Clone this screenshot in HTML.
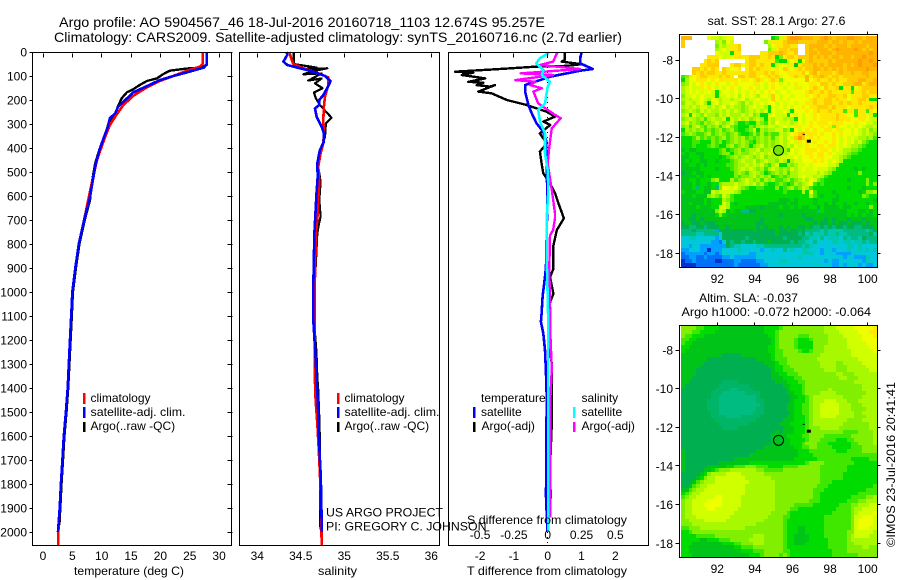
<!DOCTYPE html>
<html lang="en">
<head>
<meta charset="utf-8">
<title>Argo profile</title>
<style>
html,body{margin:0;padding:0;background:#fff;}
svg{display:block;font-family:"Liberation Sans",sans-serif;font-size:12px;fill:#000;}
</style>
</head>
<body>
<svg id="chart" xmlns="http://www.w3.org/2000/svg" width="900" height="580" viewBox="0 0 900 580">
<rect x="0" y="0" width="900" height="580" fill="#fff"/>
<text x="59" y="27" font-size="14" textLength="486" lengthAdjust="spacingAndGlyphs">Argo profile: AO 5904567_46 18-Jul-2016 20160718_1103 12.674S 95.257E</text>
<text x="54" y="42" font-size="14" textLength="568" lengthAdjust="spacingAndGlyphs">Climatology: CARS2009. Satellite-adjusted climatology: synTS_20160716.nc (2.7d earlier)</text>
<g id="plots"></g>
<g>
<text x="74" y="575" textLength="110" lengthAdjust="spacingAndGlyphs">temperature (deg C)</text>
<text x="318" y="575" textLength="39" lengthAdjust="spacingAndGlyphs">salinity</text>
<text x="467" y="575" textLength="160" lengthAdjust="spacingAndGlyphs">T difference from climatology</text>
<text x="467" y="524" textLength="160" lengthAdjust="spacingAndGlyphs">S difference from climatology</text>
</g>
<g>
<rect x="83" y="393" width="2.5" height="11" fill="#f00"/>
<text x="90.5" y="402">climatology</text>
<rect x="83" y="407" width="2.5" height="11" fill="#00f"/>
<text x="90.5" y="416" textLength="95" lengthAdjust="spacingAndGlyphs">satellite-adj. clim.</text>
<rect x="83" y="422" width="2.5" height="10" fill="#000"/>
<text x="90.5" y="430">Argo(..raw -QC)</text>
</g>
<g>
<rect x="337" y="393" width="2.5" height="11" fill="#f00"/>
<text x="344.5" y="402">climatology</text>
<rect x="337" y="407" width="2.5" height="11" fill="#00f"/>
<text x="344.5" y="416" textLength="95" lengthAdjust="spacingAndGlyphs">satellite-adj. clim.</text>
<rect x="337" y="422" width="2.5" height="10" fill="#000"/>
<text x="344.5" y="430">Argo(..raw -QC)</text>
</g>
<g>
<text x="481" y="402">temperature</text>
<rect x="473" y="407" width="2.5" height="11" fill="#00f"/>
<text x="481" y="416">satellite</text>
<rect x="473" y="422" width="2.5" height="10" fill="#000"/>
<text x="481.5" y="430">Argo(-adj)</text>
<text x="581.5" y="402">salinity</text>
<rect x="573" y="407" width="2.5" height="11" fill="#0ff"/>
<text x="581.5" y="416">satellite</text>
<rect x="573" y="422" width="2.5" height="10" fill="#f0f"/>
<text x="581.5" y="430">Argo(-adj)</text>
</g>
<text x="326" y="516.5" textLength="117" lengthAdjust="spacingAndGlyphs">US ARGO PROJECT</text>
<text x="326" y="530.5" textLength="160.5" lengthAdjust="spacingAndGlyphs">PI: GREGORY C. JOHNSON</text>
<text x="707.5" y="25" textLength="138" lengthAdjust="spacingAndGlyphs">sat. SST: 28.1  Argo: 27.6</text>
<text x="699" y="302" textLength="99" lengthAdjust="spacingAndGlyphs">Altim. SLA: -0.037</text>
<text x="681.5" y="316" textLength="189.5" lengthAdjust="spacingAndGlyphs">Argo h1000: -0.072 h2000: -0.064</text>
<text transform="translate(895,547) rotate(-90)" textLength="165" lengthAdjust="spacingAndGlyphs">©IMOS 23-Jul-2016 20:41:41</text>
</svg>
<script>
// Depth axis
const depthTicks = [0,100,200,300,400,500,600,700,800,900,1000,1100,1200,1300,1400,1500,1600,1700,1800,1900,2000];
const tempTicks = [0,5,10,15,20,25,30];
const salTicks = [34,34.5,35,35.5,36];
const dTTicks = [-2,-1,0,1,2];
const dSTicks = [-0.5,-0.25,0,0.25,0.5];
const lonTicks = [92,94,96,98,100];
const latTicks = [-8,-10,-12,-14,-16,-18];

// Temperature profiles
const tClimDepth = [0,50,61,79,100,121,147,182,221,262,304,353,408,450,547,700,800,900,1000,1100,1200,1300,1400,1500,1600,1700,1800,1900,2000,2054];
const tClimVal = [27.2,27.2,26.75,24.4,22.2,19.9,17.7,15.4,13.7,12.5,11.4,10.6,9.8,9.2,8.3,7.0,6.1,5.5,5.0,4.8,4.6,4.4,4.2,3.9,3.55,3.3,3.05,2.85,2.6,2.6];
const tArgoDepth = [0,54,65,69,78,92,110,121,137,155,168,193,225,262,283,332,367,422,464,547,617,700,800,900,1000,1100,1200,1300,1400,1500,1600,1700,1800,1900,1970];
const tArgoVal = [27.9,27.9,26.75,24.4,21.6,20.5,19.4,17.7,16.5,15.4,14.3,13.4,12.8,12.3,11.4,10.85,10.2,9.4,8.9,8.3,8.0,7.1,6.2,5.6,5.1,4.9,4.7,4.5,4.3,4.0,3.65,3.4,3.15,2.95,2.8];
const tSatDepth = [0,50,65,86,100,117,142,168,200,228,256,276,318,360,408,464,533,617,700,800,900,1000,1100,1200,1300,1400,1500,1600,1700,1800,1900,2000];
const tSatVal = [27.9,27.9,27.4,24.4,22.2,19.9,17.7,15.4,14,12.8,12.3,11.4,10.95,10.3,9.6,9,8.5,7.9,7.0,6.1,5.5,5.0,4.8,4.6,4.4,4.2,3.9,3.55,3.3,3.05,2.85,2.55];

// Salinity profiles
const sClimDepth = [0,33,50,68,86,106,138,186,228,283,339,380,422,478,540,617,700,755,986,1339,1450,1547,1644,1755,1852,2054];
const sClimVal = [34.368,34.395,34.414,34.53,34.68,34.816,34.816,34.778,34.766,34.759,34.766,34.759,34.728,34.70,34.713,34.70,34.69,34.675,34.66,34.66,34.67,34.69,34.705,34.72,34.73,34.74];
const sArgoDepth = [0,50,65,72,68,78,93,89,119,110,131,151,169,193,221,274,297,353,422,478,540,617,686,713,755,867,978,1117,1255,1353,1408,1546,1755,1852,1990];
const sArgoVal = [34.418,34.418,34.682,34.529,34.805,34.663,34.529,34.739,34.586,34.739,34.663,34.751,34.651,34.674,34.72,34.854,34.789,34.778,34.72,34.70,34.728,34.713,34.728,34.71,34.69,34.675,34.66,34.652,34.68,34.69,34.70,34.715,34.725,34.72,34.725];
const sSatDepth = [0,12,40,54,68,82,100,121,142,179,200,221,235,269,311,339,374,408,464,519,589,755,978,1117,1255,1353,1450,1547,1644,1755,1852,1992,2000];
const sSatVal = [34.337,34.345,34.30,34.345,34.49,34.644,34.778,34.843,34.816,34.759,34.713,34.713,34.663,34.682,34.739,34.766,34.766,34.72,34.69,34.694,34.68,34.656,34.644,34.644,34.667,34.68,34.694,34.705,34.713,34.728,34.736,34.74,34.74];

// Difference profiles
const dTArgoDepth = [3,33,40,51,58,61,71,82,86,96,110,124,128,138,144,138,165,172,200,221,249,269,290,304,339,381,415,464,506,547,589,631,693,742,806,903,938,1007,1042,1200,1300,1397,1547,1728,1853,1922,1940];
const dTArgoVal = [0.51,0.51,0.41,1.0,0.56,-0.33,-1.41,-2.74,-2.2,-2.54,-1.85,-2.35,-1.9,-2.1,-1.71,-1.56,-2.05,-1.66,-1.21,-0.62,-0.03,0.22,-0.13,0.07,-0.23,-0.03,-0.23,-0.18,-0.13,0.07,0.22,0.32,0.48,0.27,0.17,0.17,0.07,0.17,0.07,0.02,0.12,0.12,0.12,0.07,0.09,0.05,0.05];
const dTSatDepth = [3,26,47,71,78,103,138,165,221,256,297,332,367,464,617,894,936,1019,1089,1124,1172,1242,1339,1436,1850,2000];
const dTSatVal = [1.0,0.96,0.96,1.33,0.96,0.07,-0.67,-0.67,-0.57,-0.47,-0.33,-0.13,-0.05,-0.03,-0.01,-0.05,-0.08,-0.15,-0.18,-0.2,-0.13,-0.08,-0.05,-0.03,-0.05,-0.01];
const dSArgoDepth = [3,40,54,71,89,96,117,124,138,151,165,214,262,276,318,394,464,575,672,693,742,764,903,1042,1181,1319,1442,1700,1940];
const dSArgoVal = [0.07,0.04,-0.057,0.24,-0.2,0.04,-0.24,-0.09,-0.13,-0.044,-0.106,-0.07,0.054,0.096,0.03,0.012,0,0.03,0.054,0.054,0.04,0.017,0.012,0.017,0.02,0.03,0.02,0.02,0.02];
const dSSatDepth = [3,26,47,75,96,124,144,214,242,290,339,422,492,575,686,742,880,1019,1158,1400,2000];
const dSSatVal = [0.01,-0.057,-0.086,-0.03,-0.044,0.017,0,-0.02,-0.07,-0.057,-0.02,-0.02,0,0.005,-0.007,-0.007,-0.007,0,0.005,0.005,0.005];

// Map markers
const circleLon = [95.257];
const circleLat = [-12.674];
const markerLon = [96.87,96.6];
const markerLat = [-12.2,-11.85];

// Colour levels used by both maps ('a' is the mid teal-green halo in the SLA low)
const levelKeys = "0123456789ABCDEFGHIa";
const levelColors = ["#0030d0","#0070f8","#00a0ff","#00c8d8","#00c8b0","#00bc80","#00b050","#00c418","#00dc00","#40e800","#80f000","#a8f800","#d0ff00","#f0ff00","#ffe800","#ffcc00","#ffb400","#ff9c00","#e87000","#00b468"];

// Satellite SST grid, north to south, west to east ('.' = no data)
const sstRows = [
"GGG....DCCBCDD..........89CEGHHHGGGFFGHGFGGGHHGGFGGG",
"F........BCADC........ACEEEFGGGFFFFFGGGFGGFGFFGFGGGG",
"F........ACBCEEF.......BDEEFFEE..FGGGGFGFGGGFGGGGFGG",
".........BCDCEEF.......ACEFFEFF..FGFGGGFGHGGGGHGFGFG",
".........DCCC8EE.....EEFFFGFEEF..FGGFGGGFGGGGGGGGGHG",
".......EEEDCCDEEEEFFFEEFE8AEFFEFFFGFGFGFGGFGGFGGHGGG",
"......EFEF.......EFFEEEEE988CDE8DFGFFFFGFGGGGGGHGGHG",
".....EEFFF...EFFDEFFEFEE8CDDCE7EFFFGFGFGGGGFGFGHGGGH",
"...FFEFEFE.FEDDE.EFEFEEEDEDFEDEFEFFGGFGFGFGFGGGGGHGG",
"...FEFEFFEEFEEEEEEFFEEFEFEDDEEEEFDFGEFFFEFGFFGFFGGFF",
"9AEDEFFEEEFEFE.FFEFFEDEFEFEDDEFEEGEFFGFEFFEFFFFFFGFF",
"8BDDEEEDEDEEEEEDEEDEFEDEFEADDDDDDGDEFEEFEFEEFFFGGFFG",
"ABDCDEDCDEDDCDEDDDDCEDCDEDCDCDEDDDEEDFFEFEEFFFGGEFGG",
"BCDCCEDEDCDCDEDCDDEDCDCDEDDCDDCEDDEFEDFEEF8EE8DEFFFF",
"BCDCDCDDC8CDDCDCDCDEDCDEDCDDCDDDDEFEEFEFEEEEE9EEFEFF",
"ACCDCDCCC8CCDCDBDCDCBDDCFDCDDCDDDEDEFEEFFEEFDEEEFFEE",
"BCBCCDCBDCBCCBCCDBCCDCCDFDCDCDDDDDEFEEFFEFEEDEEFFE88",
"ACCBCDB8CDBCCDCBACBDCDCDDCDCDDCDDEEFEEFFEEFEFEEFEEEE",
"BCBCBCCBCBCDBCBBABCDCCB8DCDCDCDDEDEEFFFEFEEEDEEEEEFE",
"ABCBACBCBBCBCBCBABCBCBC8DCCDC8DDDEDEFEEFEEE9EE9EE9ED",
"BC8CBACBBACBCBBBCBCAB88CDCCC8DCDCDDEDEEEEFEEDD9EEDC8",
"ABCBAB9BCBBC8CBCBCABCB8CBCCBCB8DCDDEDEEEEFEEEDDEEDCC",
"BCABA9BABCBABCA88988BA9CBDCCCBCDCDEDEEEDEEEDDDEDDCCB",
"AB9BCA9BAB9BCA9888A9BCBCCBCDCDEEDDEDDEDEAEDDCDCDCBBC",
"8BABAB9A9AB9AB9889AC8BABBCCAB8DCDEDEDDEEDECDDCDCBCAB",
"9ABA99AB9ABA9AB9889B9B9A99CBCDEFGEEEDEDDEDEDDCDCBCBA",
"8889B9A9A9AB9ABAB9A9ABAB9BCBDCFHFDEDEDDDEDCDCDCBBAB9",
"88899888A9A89ABABA98ABABABCBCDCEDEDEDDEDEDCDCDBCA988",
"88898889A988AB9ABA8ABCABABCBCBDCDEDDEEDEEDCDCBBA9888",
"78778888889A89AB9ABBCABBCBAB9DCDDEEEDEEDCDCBBAA98888",
"87887788889AA8ABAABCBCBCBABBCDCDDEEDEEDEDCCBA9988888",
"7788878888789ABABCBABCABBBCCCCDCDDEDEEDDCCBA98888888",
"78788778878889ABCBBCABCBBACB6BCCDDDEDEDCDCB888888888",
"77887878888899ABBCBCBCA9BC88BABCCDCDDDDCCB8888888888",
"77777888878889ABCBCBAB9BCBABACBCDCCDCCCBA88888787888",
"67787788888888ABA9BCBA89ABAB9BBCCCCCBCBA8888888A8888",
"77778787888888A9AABCABAB89A9ABBCDCCBCB98888888888888",
"77887888AB888B9ABCBAB9BAB99AB9ABCBDCA988888878888A88",
"7778788788ABBBCBBCBCAB9889A989BABCD98988888888888A8A",
"7778587785ADDCDBA98899888A89AB9ACB988888888878887888",
"87778877CBCCCCBA8888888888898888B8D98888788888878AAB",
"7778777ABA9CB988888888888888888888B9878887888888A988",
"77777787888BA988888888888877787888878888778888888887",
"77877787888CB878888888877777877888878878788788788788",
"7777877788CCB8888777767777877878778868777787788888A8",
"777777777ACB7877556677777777777777775877777788877878",
"7776777778A87777777777777767777767777777777787878778",
"7766767777777777777776777777777776677767677767776777",
"6776676667777777777766777777777777767667676676667677",
"6655665666776777777767677767677667655656566566556667",
"5556555552666666666766666766766765555454444555555456",
"5555445555366666666666666766666564544454454455555564",
"3344333332366666656666666665666655443534443545546555",
"3333333322136566566566676666656554353333443443445455",
"3323322222226544333344555555555545433333333344343333",
"2233322022233334333332334335343344333233233343343434",
"1222221221233333332233333333333344433233322223333333",
"1122112111122322222233333333333433333333333233222433",
"0112111110011122111122333344333333333323223333332433",
"0000111111111121111112233333333333333333223233323223"
];

// Altimetry SLA grid, north to south, west to east
const slaRows = [
"AAAA9988887777777777778888"+"9AAAAAAAAAAABBBCCCCCDDDDDE",
"AAA99888877777777777778889"+"AAAAAAAAAAAABBBBCCCCCDDDEE",
"A9988877777777777777777889"+"AAAAA999AAAAABBBBCCCCCDDDE",
"99887777777777777777777789"+"AAAA98889AAAABBBBBCCCCDDDD",
"98877777777777777777777789"+"AAAA98888AAAABBBBBCCCCCDDD",
"88777777777777777777777889"+"AAAA98888AAABBBBBBCCCCCCDD",
"87777777777777777777777889"+"9AAAA9889AAABBBBBBBCCCCCCD",
"77777777777666667777777789"+"9AAAAAAAAAABBBBBBBBCCCCCCC",
"77777776666666666666777789"+"99AAAAAAAABBBBBBBBBBBCCCCC",
"77777766666666666666667778"+"99AAAAAAAAABBBBAABBBBBCCCC",
"77777666666666666666666778"+"899AAAAAAAABBBBAAABBBBBCCC",
"77776666666666666666666678"+"8999AAAAAAAABBBAAABBBBBBCC",
"77776666666666666666666677"+"88999AAAAAAAAAABBAAABBBBBB",
"77766666666666666666666677"+"788899AAAAAAAAAABBAAABBBBB",
"77666666666aaaa66666666667"+"7788899AAAAAAAAAAAAABBBBBB",
"7666666666aaaaaaaa66666666"+"6778889AAAAAAAAAAAAAAABBBB",
"666666666aaaa55aaaa6666666"+"6678889AAAAAABAAAAAAAABBBB",
"66666666aaa555555aaaa66666"+"6677889AAAABBBBAAAAAAAABBB",
"66666666aa5555555555a66666"+"66677889ABBBBBBBBAAAAABBBB",
"6666666aaa5555555555aa6666"+"66678889ABBBCCCBBBAAABBBBB",
"6666666aaa55555555555a6666"+"66778899ABBCCCCCBBBAAABBBB",
"6666666aaa5555555555aa6666"+"66778899ABBCCCCCBBBAAAABBB",
"66666666aa555555555aaa6666"+"66678899ABBCCCCCBBBBAABBBB",
"66666666aaaa5555aaaaa66666"+"66778889ABBCCCCBBBBBAAABBB",
"666666666aaaaaaaaaaa666666"+"67778889ABBBBBBBBBAAAABBBB",
"6666666666aaaaaaaa66666666"+"77788889ABBBBBBBBAAAAAAABB",
"66666666666aaaa66666666666"+"67778889AAABBBBBAAAAAAAABB",
"66666666666666666666666667"+"67778889AAAAAAAAA9999AAAAB",
"66666666666666666666666677"+"77888899AAAA9999999AAAAAAB",
"66666666666666666666666677"+"77788889AAA999988899AAAAAB",
"66666666666666666666666677"+"7778889AAA99988888899AAAAB",
"66666666666666666666667777"+"77778899AA999988888999AAAA",
"76666666666666666666777777"+"7777788899999998889999AAAA",
"76666666666666666677777777"+"77777888899999999999999999",
"76666666666666777777777777"+"77778888889999999998888899",
"76666666667777777788888888"+"88888889AAAA99999999888888",
"76666667777788999AAA999888"+"89999AAAAAA999999988888888",
"7666667789AAABBBBBBBAA9999"+"9AAAAAAAAAA999999988888888",
"6666678ABBBBCCCCBBBBBBAAAA"+"AAAAAAAAAAA999999888888888",
"666678ABBCCCCCCCCBBBBBBBAA"+"AAAAAAAAAAA999999888888888",
"66679ABBBCCCCCCCCCBBBBBBBA"+"AAAAAAAAAAA999888888888888",
"6679ABBCCCCCCCCCCBBBBBBBBA"+"AAAAAAAAAA9998888888888889",
"779ABBCCCCCCCCCCCBBBBBBBBA"+"AAAAAAAAA99988888888888999",
"89ABBCCCCCCCCCCCCBBBBBBBBA"+"AAAAAAAAA99888888888899999",
"9ABBCCCCCDDCCCCCBBBBBBBBBA"+"AAAAAAAAA99888888889999AAB",
"ABBCCCCDDDDCCCCCBBBBBBBBBA"+"AAAAAAAA9998888888999AABBB",
"ABBCCCDDDDDCCCCCBBBBBBBBBA"+"AAAA999998888888999AABBBCC",
"ABBCCCCDDCCCCCCBBBBBBBBBBA"+"AAA9988888888889999ABBCCCC",
"ABBCCCCCCCCCCCBBBBBBBBBBAA"+"AA98888888888899999ABCCCCD",
"ABBBCCCCCCCCCBBBBBBBBBBAAA"+"A998888888889999999ACCDDDC",
"AABBBBCCCCCCBBBBBBBBBBAAAA"+"A988888888889999999ACDDDDC",
"AAABBBBBBBBBBBBBBBBBAAAAAA"+"A988888888889999999ACDDDDC",
"99AAABBBBBBBBBBBBAAAAAAAAA"+"A988877888889999999ACDDDCC",
"889AAAAAAAAAAAAAAAAAAAAAAA"+"A98887788888999999AACCCCCB",
"888899999AAAAAAAAAABBBAAAA"+"A98877778888999999ABCCCCBB",
"8888877888999AAAAABBBBAAAA"+"A98877778888899999ABBBBBBB",
"8887777777788899AAABBBAAAA"+"A98877788888899999AABBBBBB",
"8877777777777788999AAAAAAA"+"A98888888888899999AAAABBAA",
"8877777777777777888999AAAA"+"A99888888888889999AAAAAAAA",
"8887777777777777778889AAAA"+"9A9888888888889999999AAAAA"
];

const svgNS = "http://www.w3.org/2000/svg";
const plots = document.getElementById("plots");

function xTemp(v){ return 43 + 5.87 * v; }
function xSal(v){ return 257.3 + 87 * (v - 34); }
function xDT(v){ return 547.7 + 33.8 * v; }
function xDS(v){ return 547.7 + 135.2 * v; }
function yDepth(d){ return 52 + 0.24 * d; }
function xLon(v){ return 717.3 + 18.8 * (v - 92); }
function yLat(v, top){ return top + 19.33 * (-8 - v); }

function make(tag){ return document.createElementNS(svgNS, tag); }

function tickLine(x1, y1, x2, y2){
  const el = make("line");
  el.setAttribute("x1", Math.round(x1 - 0.5) + 0.5);
  el.setAttribute("x2", Math.round(x2 - 0.5) + 0.5);
  el.setAttribute("y1", Math.round(y1 - 0.5) + 0.5);
  el.setAttribute("y2", Math.round(y2 - 0.5) + 0.5);
  el.setAttribute("stroke", "#000");
  el.setAttribute("stroke-width", "1");
  el.setAttribute("shape-rendering", "crispEdges");
  
  
  plots.appendChild(el);
}

function label(txt, x, y, anchor){
  const el = make("text");
  el.setAttribute("x", x);
  el.setAttribute("y", y);
  el.setAttribute("text-anchor", anchor);
  el.textContent = txt;
  
  
  plots.appendChild(el);
}

function frame(x1, y1, x2, y2){
  const el = make("rect");
  el.setAttribute("x", x1);
  el.setAttribute("y", y1);
  el.setAttribute("width", x2 - x1);
  el.setAttribute("height", y2 - y1);
  el.setAttribute("fill", "none");
  el.setAttribute("stroke", "#000");
  el.setAttribute("stroke-width", "1");
  el.setAttribute("shape-rendering", "crispEdges");
  
  
  plots.appendChild(el);
}

function series(depths, vals, xf, color, width, name){
  const el = make("polyline");
  const pts = [];
  for (let i = 0; i < vals.length; i++) {
    pts.push(xf(vals[i]).toFixed(1) + "," + yDepth(depths[i]).toFixed(1));
  }
  el.setAttribute("points", pts.join(" "));
  el.setAttribute("fill", "none");
  el.setAttribute("stroke", color);
  el.setAttribute("stroke-width", width);
  el.setAttribute("stroke-linejoin", "round");
  el.setAttribute("shape-rendering", "crispEdges");
  
  
  plots.appendChild(el);
}

function heatmap(rows, top, left, right, bottom, name){
  const nR = rows.length;
  const nC = 52;
  const cw = (right - left) / nC;
  const ch = (bottom - top) / nR;
  for (let r = 0; r < nR; r++) {
    for (let c = 0; c < nC; c++) {
      const k = levelKeys.indexOf(rows[r][Math.min(c, rows[r].length - 1)]);
      if (k < 0) continue;
      const x0 = Math.round(left + c * cw);
      const x1 = Math.round(left + (c + 1) * cw);
      const y0 = Math.round(top + r * ch);
      const y1 = Math.round(top + (r + 1) * ch);
      const el = make("rect");
      el.setAttribute("x", x0);
      el.setAttribute("y", y0);
      el.setAttribute("width", x1 - x0);
      el.setAttribute("height", y1 - y0);
      el.setAttribute("fill", levelColors[k]);
      
      
      plots.appendChild(el);
    }
  }
}

function mapOverlay(latTop, fill){
  const cx = xLon(circleLon[0]);
  const cy = yLat(circleLat[0], latTop);
  const circ = make("circle");
  circ.setAttribute("cx", cx);
  circ.setAttribute("cy", cy);
  circ.setAttribute("r", 5);
  circ.setAttribute("fill", fill);
  circ.setAttribute("stroke", "#000");
  circ.setAttribute("stroke-width", "1");
  
  
  plots.appendChild(circ);
  for (let i = 0; i < markerLon.length; i++) {
    const mx = xLon(markerLon[i]);
    const my = yLat(markerLat[i], latTop);
    const m = make("rect");
    m.setAttribute("x", mx - (i === 0 ? 2 : 1));
    m.setAttribute("y", my - (i === 0 ? 1.5 : 0.5));
    m.setAttribute("width", i === 0 ? 4 : 2);
    m.setAttribute("height", i === 0 ? 3 : 1);
    m.setAttribute("fill", "#000");
    
    
    plots.appendChild(m);
  }
}

function mapAxes(frameTop, frameBottom, latTop, labelY){
  frame(679.5, frameTop + 0.5, 877.5, frameBottom + 0.5);
  lonTicks.forEach(function(v){
    tickLine(xLon(v), frameTop + 0.5, xLon(v), frameTop - 2.5);
    label(String(v), xLon(v), labelY, "middle");
  });
  latTicks.forEach(function(v){
    const y = yLat(v, latTop);
    tickLine(679.5, y, 675.5, y);
    tickLine(877.5, y, 880.5, y);
    label(String(v), 673, y + 4.5, "end");
  });
}

// Profile panels: drawn lines first
series(tArgoDepth, tArgoVal, xTemp, "#000", 2.4, "temperature-argo-line");
series(tClimDepth, tClimVal, xTemp, "#f00", 2.6, "temperature-climatology-line");
series(tSatDepth, tSatVal, xTemp, "#00f", 2.6, "temperature-satellite-line");

series(sArgoDepth, sArgoVal, xSal, "#000", 2.2, "salinity-argo-line");
series(sClimDepth, sClimVal, xSal, "#f00", 2.6, "salinity-climatology-line");
series(sSatDepth, sSatVal, xSal, "#00f", 2.6, "salinity-satellite-line");

const zeroLine = make("line");
zeroLine.setAttribute("x1", xDT(0));
zeroLine.setAttribute("x2", xDT(0));
zeroLine.setAttribute("y1", yDepth(0));
zeroLine.setAttribute("y2", yDepth(2054));
zeroLine.setAttribute("stroke", "#000");
zeroLine.setAttribute("stroke-width", "1");
zeroLine.setAttribute("stroke-dasharray", "1 4");
zeroLine.setAttribute("shape-rendering", "crispEdges");


plots.appendChild(zeroLine);

series(dTArgoDepth, dTArgoVal, xDT, "#000", 2.4, "t-difference-argo-line");
series(dTSatDepth, dTSatVal, xDT, "#00f", 2.6, "t-difference-satellite-line");
series(dSArgoDepth, dSArgoVal, xDS, "#f0f", 2.4, "s-difference-argo-line");
series(dSSatDepth, dSSatVal, xDS, "#0ff", 2.6, "s-difference-satellite-line");

// Frames and ticks
frame(32.5, 52.5, 231.5, 545.5);
frame(239.5, 52.5, 439.5, 545.5);
frame(448.5, 52.5, 648.5, 545.5);

depthTicks.forEach(function(d){
  const y = yDepth(d);
  tickLine(232, y, 227, y);
  tickLine(32.5, y, 29.5, y);
  label(String(d), 27, y + 4.5, "end");
});
tempTicks.forEach(function(v){
  tickLine(xTemp(v), 53, xTemp(v), 57);
  label(String(v), xTemp(v), 560, "middle");
});
salTicks.forEach(function(v){
  tickLine(xSal(v), 53, xSal(v), 57);
  label(String(v), xSal(v), 560, "middle");
});
dTTicks.forEach(function(v){
  tickLine(xDT(v), 53, xDT(v), 57);
  label(String(v), xDT(v), 560, "middle");
});
dSTicks.forEach(function(v){
  label(String(v), xDS(v), 539, "middle");
});

// Maps
heatmap(sstRows, 36, 681, 877, 267, "sst-cell");
mapOverlay(60, "#70e800");
mapAxes(34, 267, 60, 283);

heatmap(slaRows, 326, 681, 877, 557, "sla-cell");
mapOverlay(350, "#00c020");
mapAxes(325, 557, 350, 573);
</script>
</body>
</html>
